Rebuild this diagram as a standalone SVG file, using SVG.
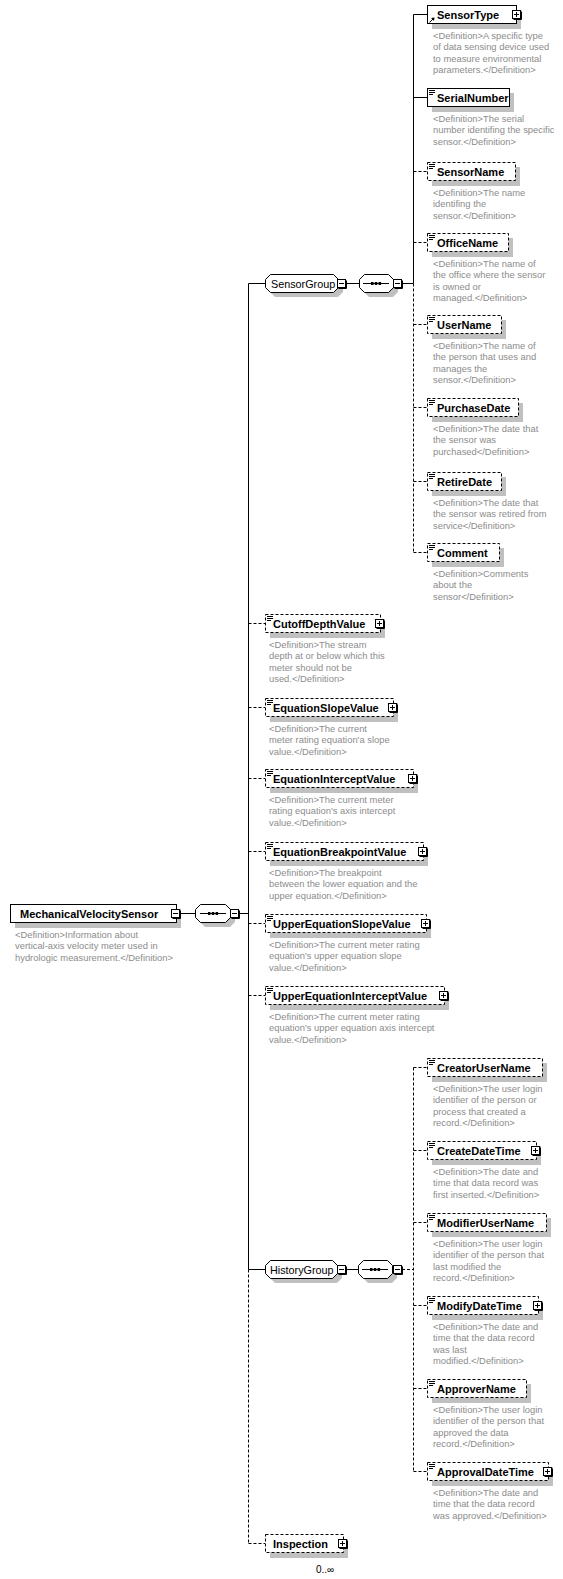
<svg xmlns="http://www.w3.org/2000/svg" width="563" height="1579" viewBox="0 0 563 1579">
<style>
.bg{fill:#fff}
.sh{fill:#c0c0c0}
.bx{fill:#fff;stroke:#000;stroke-width:1}
.op{stroke-dasharray:3 2}
.nm{font-family:"Liberation Sans",Arial,sans-serif;font-weight:bold;font-size:11px;fill:#000}
.gl{font-family:"Liberation Sans",Arial,sans-serif;font-size:10.8px;fill:#000}
.df{font-family:"Liberation Sans",Arial,sans-serif;font-size:9.4px;fill:#8c8c8c}
.oc{font-family:"Liberation Sans","DejaVu Sans",Arial,sans-serif;font-size:10px;fill:#000}
.ln{stroke:#000;stroke-width:1;fill:none}
.ic{stroke:#000;stroke-width:1;fill:none}
</style>
<defs>
<g id="plus"><path d="M9.5 1.5V9.5H1.5" stroke="#000" fill="none"/><rect x="0.5" y="0.5" width="8" height="8" fill="#fff" stroke="#000"/><path d="M2 4.5h5M4.5 2v5" stroke="#000"/></g>
<g id="minus"><path d="M9.5 1.5V9.5H1.5" stroke="#000" fill="none"/><rect x="0.5" y="0.5" width="8" height="8" fill="#fff" stroke="#000"/><path d="M2 4.5h5" stroke="#000"/></g>
<g id="txt"><path d="M0 0.5h6M0 2.5h6M0 4.5h4" stroke="#000" fill="none"/></g>
<g id="seqsym"><path d="M0 0h26" stroke="#000"/><rect x="8" y="-1.5" width="2.5" height="3" fill="#000"/><rect x="11.8" y="-1.5" width="2.5" height="3" fill="#000"/><rect x="15.6" y="-1.5" width="2.5" height="3" fill="#000"/></g>
</defs>
<rect class="bg" x="0" y="0" width="563" height="1579"/>

<g id="connectors">
<path class="ln" d="M180 913.5H195M239 913.5H248.5"/>
<path class="ln" d="M248.5 283.5V1269.5"/>
<path class="ln op" d="M248.5 1269.5V1543.5"/>
<path class="ln" d="M248.5 283.5H265M248.5 1269.5H265"/>
<path class="ln op" d="M248.5 623.5H265M248.5 707.5H265M248.5 778.5H265M248.5 851.5H265M248.5 923.5H265M248.5 995.5H265M248.5 1543.5H265"/>
<path class="ln" d="M346 283.5H359M402 283.5H413.5"/>
<path class="ln" d="M413.5 14.5V283.5"/>
<path class="ln op" d="M413.5 283.5V552.5"/>
<path class="ln" d="M413.5 14.5H427M413.5 97.5H427"/>
<path class="ln op" d="M413.5 171.5H427M413.5 242.5H427M413.5 324.5H427M413.5 407.5H427M413.5 481.5H427M413.5 552.5H427"/>
<path class="ln" d="M346 1269.5H358"/>
<path class="ln op" d="M402 1269.5H413.5"/>
<path class="ln op" d="M413.5 1067.5V1471.5"/>
<path class="ln op" d="M413.5 1067.5H427M413.5 1150.5H427M413.5 1222.5H427M413.5 1305.5H427M413.5 1388.5H427M413.5 1471.5H427"/>
</g>

<g id="MechanicalVelocitySensor">
<rect class="sh" x="15" y="909" width="166" height="19"/>
<rect class="bx" x="10.5" y="904.5" width="166" height="18"/>
<text class="nm" x="20" y="918">MechanicalVelocitySensor</text>
<use href="#minus" x="171" y="909"/>
<text class="df" x="15" y="938"><tspan x="15">&lt;Definition&gt;Information about</tspan><tspan x="15" dy="11.4">vertical-axis velocity meter used in</tspan><tspan x="15" dy="11.4">hydrologic measurement.&lt;/Definition&gt;</tspan></text>
</g>

<g id="seq-root">
<polygon class="sh" points="205,909 230,909 235,914 235,922 230,927 205,927 200,922 200,914"/>
<polygon class="bx" points="200.5,904.5 225.5,904.5 230.5,909.5 230.5,917.5 225.5,922.5 200.5,922.5 195.5,917.5 195.5,909.5"/>
<use href="#seqsym" x="200" y="913.5"/>
<use href="#minus" x="230" y="909"/>
</g>

<g id="SensorGroup">
<polygon class="sh" points="275,279 338,279 343,284 343,292 338,297 275,297 270,292 270,284"/>
<polygon class="bx" points="270.5,274.5 333.5,274.5 338.5,279.5 338.5,287.5 333.5,292.5 270.5,292.5 265.5,287.5 265.5,279.5"/>
<text class="gl" x="271" y="287.5">SensorGroup</text>
<use href="#minus" x="337" y="279"/>
</g>

<g id="seq-sensor">
<polygon class="sh" points="369,279 393,279 398,284 398,292 393,297 369,297 364,292 364,284"/>
<polygon class="bx" points="364.5,274.5 388.5,274.5 393.5,279.5 393.5,287.5 388.5,292.5 364.5,292.5 359.5,287.5 359.5,279.5"/>
<use href="#seqsym" x="363" y="283.5"/>
<use href="#minus" x="393" y="279"/>
</g>

<g id="SensorType">
<rect class="sh" x="432" y="10" width="89" height="19"/>
<rect class="bx" x="427.5" y="5.5" width="89" height="18"/>
<path class="ic" d="M429.5 22.5L433.5 18.5"/>
<polygon points="431,18 434.5,17.5 434,21" fill="#000"/>
<text class="nm" x="437" y="19">SensorType</text>
<use href="#plus" x="512" y="10"/>
<text class="df" x="433" y="39"><tspan x="433">&lt;Definition&gt;A specific type</tspan><tspan x="433" dy="11.4">of data sensing device used</tspan><tspan x="433" dy="11.4">to measure environmental</tspan><tspan x="433" dy="11.4">parameters.&lt;/Definition&gt;</tspan></text>
</g>

<g id="SerialNumber">
<rect class="sh" x="432" y="93" width="82" height="19"/>
<rect class="bx" x="427.5" y="88.5" width="82" height="18"/>
<use href="#txt" x="429" y="90"/>
<text class="nm" x="437" y="102">SerialNumber</text>
<text class="df" x="433" y="122"><tspan x="433">&lt;Definition&gt;The serial</tspan><tspan x="433" dy="11.4">number identifing the specific</tspan><tspan x="433" dy="11.4">sensor.&lt;/Definition&gt;</tspan></text>
</g>

<g id="SensorName">
<rect class="sh" x="432" y="167" width="88" height="19"/>
<rect class="bx op" x="427.5" y="162.5" width="88" height="18"/>
<use href="#txt" x="429" y="164"/>
<text class="nm" x="437" y="176">SensorName</text>
<text class="df" x="433" y="196"><tspan x="433">&lt;Definition&gt;The name</tspan><tspan x="433" dy="11.4">identifing the</tspan><tspan x="433" dy="11.4">sensor.&lt;/Definition&gt;</tspan></text>
</g>

<g id="OfficeName">
<rect class="sh" x="432" y="238" width="81" height="19"/>
<rect class="bx op" x="427.5" y="233.5" width="81" height="18"/>
<use href="#txt" x="429" y="235"/>
<text class="nm" x="437" y="247">OfficeName</text>
<text class="df" x="433" y="267"><tspan x="433">&lt;Definition&gt;The name of</tspan><tspan x="433" dy="11.4">the office where the sensor</tspan><tspan x="433" dy="11.4">is owned or</tspan><tspan x="433" dy="11.4">managed.&lt;/Definition&gt;</tspan></text>
</g>

<g id="UserName">
<rect class="sh" x="432" y="320" width="74" height="19"/>
<rect class="bx op" x="427.5" y="315.5" width="74" height="18"/>
<use href="#txt" x="429" y="317"/>
<text class="nm" x="437" y="329">UserName</text>
<text class="df" x="433" y="349"><tspan x="433">&lt;Definition&gt;The name of</tspan><tspan x="433" dy="11.4">the person that uses and</tspan><tspan x="433" dy="11.4">manages the</tspan><tspan x="433" dy="11.4">sensor.&lt;/Definition&gt;</tspan></text>
</g>

<g id="PurchaseDate">
<rect class="sh" x="432" y="403" width="91" height="19"/>
<rect class="bx op" x="427.5" y="398.5" width="91" height="18"/>
<use href="#txt" x="429" y="400"/>
<text class="nm" x="437" y="412">PurchaseDate</text>
<text class="df" x="433" y="432"><tspan x="433">&lt;Definition&gt;The date that</tspan><tspan x="433" dy="11.4">the sensor was</tspan><tspan x="433" dy="11.4">purchased&lt;/Definition&gt;</tspan></text>
</g>

<g id="RetireDate">
<rect class="sh" x="432" y="477" width="74" height="19"/>
<rect class="bx op" x="427.5" y="472.5" width="74" height="18"/>
<use href="#txt" x="429" y="474"/>
<text class="nm" x="437" y="486">RetireDate</text>
<text class="df" x="433" y="506"><tspan x="433">&lt;Definition&gt;The date that</tspan><tspan x="433" dy="11.4">the sensor was retired from</tspan><tspan x="433" dy="11.4">service&lt;/Definition&gt;</tspan></text>
</g>

<g id="Comment">
<rect class="sh" x="432" y="548" width="72" height="19"/>
<rect class="bx op" x="427.5" y="543.5" width="72" height="18"/>
<use href="#txt" x="429" y="545"/>
<text class="nm" x="437" y="557">Comment</text>
<text class="df" x="433" y="577"><tspan x="433">&lt;Definition&gt;Comments</tspan><tspan x="433" dy="11.4">about the</tspan><tspan x="433" dy="11.4">sensor&lt;/Definition&gt;</tspan></text>
</g>

<g id="CutoffDepthValue">
<rect class="sh" x="270" y="619" width="115" height="19"/>
<rect class="bx op" x="265.5" y="614.5" width="115" height="18"/>
<use href="#txt" x="267" y="616"/>
<text class="nm" x="273" y="628">CutoffDepthValue</text>
<use href="#plus" x="375" y="619"/>
<text class="df" x="269" y="648"><tspan x="269">&lt;Definition&gt;The stream</tspan><tspan x="269" dy="11.4">depth at or below which this</tspan><tspan x="269" dy="11.4">meter should not be</tspan><tspan x="269" dy="11.4">used.&lt;/Definition&gt;</tspan></text>
</g>

<g id="EquationSlopeValue">
<rect class="sh" x="270" y="703" width="128" height="19"/>
<rect class="bx op" x="265.5" y="698.5" width="128" height="18"/>
<use href="#txt" x="267" y="700"/>
<text class="nm" x="273" y="712">EquationSlopeValue</text>
<use href="#plus" x="388" y="703"/>
<text class="df" x="269" y="732"><tspan x="269">&lt;Definition&gt;The current</tspan><tspan x="269" dy="11.4">meter rating equation'a slope</tspan><tspan x="269" dy="11.4">value.&lt;/Definition&gt;</tspan></text>
</g>

<g id="EquationInterceptValue">
<rect class="sh" x="270" y="774" width="148" height="19"/>
<rect class="bx op" x="265.5" y="769.5" width="148" height="18"/>
<use href="#txt" x="267" y="771"/>
<text class="nm" x="273" y="783">EquationInterceptValue</text>
<use href="#plus" x="408" y="774"/>
<text class="df" x="269" y="803"><tspan x="269">&lt;Definition&gt;The current meter</tspan><tspan x="269" dy="11.4">rating equation's axis intercept</tspan><tspan x="269" dy="11.4">value.&lt;/Definition&gt;</tspan></text>
</g>

<g id="EquationBreakpointValue">
<rect class="sh" x="270" y="847" width="158" height="19"/>
<rect class="bx op" x="265.5" y="842.5" width="158" height="18"/>
<use href="#txt" x="267" y="844"/>
<text class="nm" x="273" y="856">EquationBreakpointValue</text>
<use href="#plus" x="418" y="847"/>
<text class="df" x="269" y="876"><tspan x="269">&lt;Definition&gt;The breakpoint</tspan><tspan x="269" dy="11.4">between the lower equation and the</tspan><tspan x="269" dy="11.4">upper equation.&lt;/Definition&gt;</tspan></text>
</g>

<g id="UpperEquationSlopeValue">
<rect class="sh" x="270" y="919" width="161" height="19"/>
<rect class="bx op" x="265.5" y="914.5" width="161" height="18"/>
<use href="#txt" x="267" y="916"/>
<text class="nm" x="273" y="928">UpperEquationSlopeValue</text>
<use href="#plus" x="421" y="919"/>
<text class="df" x="269" y="948"><tspan x="269">&lt;Definition&gt;The current meter rating</tspan><tspan x="269" dy="11.4">equation's upper equation slope</tspan><tspan x="269" dy="11.4">value.&lt;/Definition&gt;</tspan></text>
</g>

<g id="UpperEquationInterceptValue">
<rect class="sh" x="270" y="991" width="179" height="19"/>
<rect class="bx op" x="265.5" y="986.5" width="179" height="18"/>
<use href="#txt" x="267" y="988"/>
<text class="nm" x="273" y="1000">UpperEquationInterceptValue</text>
<use href="#plus" x="439" y="991"/>
<text class="df" x="269" y="1020"><tspan x="269">&lt;Definition&gt;The current meter rating</tspan><tspan x="269" dy="11.4">equation's upper equation axis intercept</tspan><tspan x="269" dy="11.4">value.&lt;/Definition&gt;</tspan></text>
</g>

<g id="HistoryGroup">
<polygon class="sh" points="275,1265 337,1265 342,1270 342,1278 337,1283 275,1283 270,1278 270,1270"/>
<polygon class="bx" points="270.5,1260.5 332.5,1260.5 337.5,1265.5 337.5,1273.5 332.5,1278.5 270.5,1278.5 265.5,1273.5 265.5,1265.5"/>
<text class="gl" x="270" y="1273.5">HistoryGroup</text>
<use href="#minus" x="337" y="1265"/>
</g>

<g id="seq-history">
<polygon class="sh" points="368,1265 392,1265 397,1270 397,1278 392,1283 368,1283 363,1278 363,1270"/>
<polygon class="bx" points="363.5,1260.5 387.5,1260.5 392.5,1265.5 392.5,1273.5 387.5,1278.5 363.5,1278.5 358.5,1273.5 358.5,1265.5"/>
<use href="#seqsym" x="362" y="1269.5"/>
<use href="#minus" x="393" y="1265"/>
</g>

<g id="CreatorUserName">
<rect class="sh" x="432" y="1063" width="115" height="19"/>
<rect class="bx op" x="427.5" y="1058.5" width="115" height="18"/>
<use href="#txt" x="429" y="1060"/>
<text class="nm" x="437" y="1072">CreatorUserName</text>
<text class="df" x="433" y="1092"><tspan x="433">&lt;Definition&gt;The user login</tspan><tspan x="433" dy="11.4">identifier of the person or</tspan><tspan x="433" dy="11.4">process that created a</tspan><tspan x="433" dy="11.4">record.&lt;/Definition&gt;</tspan></text>
</g>

<g id="CreateDateTime">
<rect class="sh" x="432" y="1146" width="109" height="19"/>
<rect class="bx op" x="427.5" y="1141.5" width="109" height="18"/>
<use href="#txt" x="429" y="1143"/>
<text class="nm" x="437" y="1155">CreateDateTime</text>
<use href="#plus" x="531" y="1146"/>
<text class="df" x="433" y="1175"><tspan x="433">&lt;Definition&gt;The date and</tspan><tspan x="433" dy="11.4">time that data record was</tspan><tspan x="433" dy="11.4">first inserted.&lt;/Definition&gt;</tspan></text>
</g>

<g id="ModifierUserName">
<rect class="sh" x="432" y="1218" width="119" height="19"/>
<rect class="bx op" x="427.5" y="1213.5" width="119" height="18"/>
<use href="#txt" x="429" y="1215"/>
<text class="nm" x="437" y="1227">ModifierUserName</text>
<text class="df" x="433" y="1247"><tspan x="433">&lt;Definition&gt;The user login</tspan><tspan x="433" dy="11.4">identifier of the person that</tspan><tspan x="433" dy="11.4">last modified the</tspan><tspan x="433" dy="11.4">record.&lt;/Definition&gt;</tspan></text>
</g>

<g id="ModifyDateTime">
<rect class="sh" x="432" y="1301" width="111" height="19"/>
<rect class="bx op" x="427.5" y="1296.5" width="111" height="18"/>
<use href="#txt" x="429" y="1298"/>
<text class="nm" x="437" y="1310">ModifyDateTime</text>
<use href="#plus" x="533" y="1301"/>
<text class="df" x="433" y="1330"><tspan x="433">&lt;Definition&gt;The date and</tspan><tspan x="433" dy="11.4">time that the data record</tspan><tspan x="433" dy="11.4">was last</tspan><tspan x="433" dy="11.4">modified.&lt;/Definition&gt;</tspan></text>
</g>

<g id="ApproverName">
<rect class="sh" x="432" y="1384" width="99" height="19"/>
<rect class="bx op" x="427.5" y="1379.5" width="99" height="18"/>
<use href="#txt" x="429" y="1381"/>
<text class="nm" x="437" y="1393">ApproverName</text>
<text class="df" x="433" y="1413"><tspan x="433">&lt;Definition&gt;The user login</tspan><tspan x="433" dy="11.4">identifier of the person that</tspan><tspan x="433" dy="11.4">approved the data</tspan><tspan x="433" dy="11.4">record.&lt;/Definition&gt;</tspan></text>
</g>

<g id="ApprovalDateTime">
<rect class="sh" x="432" y="1467" width="121" height="19"/>
<rect class="bx op" x="427.5" y="1462.5" width="121" height="18"/>
<use href="#txt" x="429" y="1464"/>
<text class="nm" x="437" y="1476">ApprovalDateTime</text>
<use href="#plus" x="543" y="1467"/>
<text class="df" x="433" y="1496"><tspan x="433">&lt;Definition&gt;The date and</tspan><tspan x="433" dy="11.4">time that the data record</tspan><tspan x="433" dy="11.4">was approved.&lt;/Definition&gt;</tspan></text>
</g>

<g id="Inspection">
<rect class="sh" x="270" y="1539" width="78" height="19"/>
<rect class="bx op" x="265.5" y="1534.5" width="78" height="18"/>
<text class="nm" x="273" y="1548">Inspection</text>
<use href="#plus" x="338" y="1539"/>
<text class="oc" x="316" y="1573">0..∞</text>
</g>
</svg>
